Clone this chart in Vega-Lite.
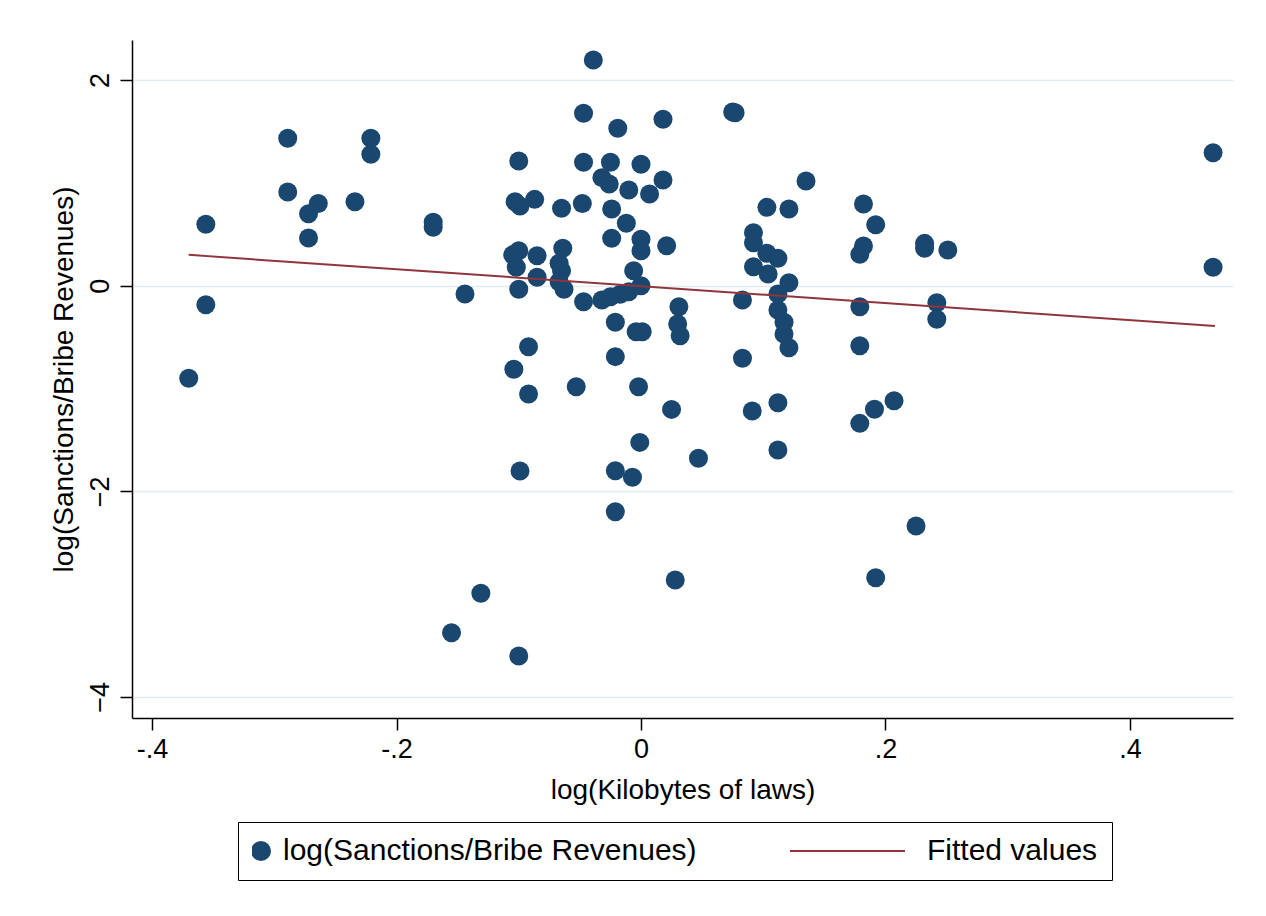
{
  "$schema": "https://vega.github.io/schema/vega-lite/v6.json",
  "width": 1101,
  "height": 678,
  "autosize": {"type": "none"},
  "padding": {"left": 132, "top": 40, "right": 33, "bottom": 198},
  "background": "white",
  "config": {
    "view": {"stroke": null},
    "font": "Liberation Sans"
  },
  "datasets": {
    "pts": [
      {"x": -0.356, "y": 0.597}, {"x": -0.356, "y": -0.185}, {"x": -0.370, "y": -0.900},
      {"x": -0.289, "y": 1.434}, {"x": -0.289, "y": 0.911}, {"x": -0.264, "y": 0.800},
      {"x": -0.272, "y": 0.700}, {"x": -0.272, "y": 0.464}, {"x": -0.234, "y": 0.817},
      {"x": -0.221, "y": 1.434}, {"x": -0.221, "y": 1.278}, {"x": -0.170, "y": 0.617},
      {"x": -0.170, "y": 0.568}, {"x": -0.144, "y": -0.081},
      {"x": -0.039, "y": 2.196}, {"x": -0.047, "y": 1.677}, {"x": -0.019, "y": 1.531},
      {"x": 0.018, "y": 1.619}, {"x": -0.100, "y": 1.213}, {"x": -0.047, "y": 1.200},
      {"x": -0.025, "y": 1.200}, {"x": 0.000, "y": 1.181}, {"x": -0.032, "y": 1.051},
      {"x": -0.026, "y": 0.989}, {"x": -0.010, "y": 0.931}, {"x": 0.018, "y": 1.028},
      {"x": 0.007, "y": 0.892}, {"x": -0.103, "y": 0.817}, {"x": -0.099, "y": 0.775},
      {"x": -0.087, "y": 0.840}, {"x": -0.065, "y": 0.753}, {"x": -0.048, "y": 0.800},
      {"x": -0.024, "y": 0.746}, {"x": -0.012, "y": 0.607}, {"x": -0.024, "y": 0.461},
      {"x": 0.000, "y": 0.451}, {"x": 0.000, "y": 0.340}, {"x": 0.021, "y": 0.389},
      {"x": -0.105, "y": 0.300}, {"x": -0.100, "y": 0.340}, {"x": -0.102, "y": 0.180},
      {"x": -0.085, "y": 0.292}, {"x": -0.085, "y": 0.082}, {"x": -0.100, "y": -0.035},
      {"x": -0.064, "y": 0.364}, {"x": -0.067, "y": 0.218}, {"x": -0.065, "y": 0.146},
      {"x": -0.067, "y": 0.039}, {"x": -0.063, "y": -0.035}, {"x": -0.047, "y": -0.156},
      {"x": -0.032, "y": -0.139}, {"x": -0.025, "y": -0.107}, {"x": -0.017, "y": -0.084},
      {"x": -0.010, "y": -0.058}, {"x": -0.006, "y": 0.146}, {"x": 0.000, "y": 0.000},
      {"x": 0.031, "y": -0.204}, {"x": 0.030, "y": -0.373}, {"x": 0.032, "y": -0.486},
      {"x": -0.021, "y": -0.356}, {"x": -0.004, "y": -0.447}, {"x": 0.001, "y": -0.447},
      {"x": -0.092, "y": -0.593}, {"x": -0.021, "y": -0.690}, {"x": -0.104, "y": -0.813},
      {"x": -0.092, "y": -1.054}, {"x": -0.053, "y": -0.982}, {"x": -0.002, "y": -0.982},
      {"x": 0.025, "y": -1.203}, {"x": -0.001, "y": -1.524}, {"x": 0.047, "y": -1.679},
      {"x": -0.099, "y": -1.803}, {"x": -0.021, "y": -1.800}, {"x": -0.007, "y": -1.864},
      {"x": -0.021, "y": -2.198}, {"x": 0.028, "y": -2.863}, {"x": -0.131, "y": -2.992},
      {"x": -0.155, "y": -3.375}, {"x": -0.100, "y": -3.602},
      {"x": 0.077, "y": 1.683}, {"x": 0.075, "y": 1.690}, {"x": 0.135, "y": 1.018},
      {"x": 0.103, "y": 0.762}, {"x": 0.121, "y": 0.746}, {"x": 0.092, "y": 0.516},
      {"x": 0.092, "y": 0.418}, {"x": 0.103, "y": 0.315}, {"x": 0.112, "y": 0.266},
      {"x": 0.092, "y": 0.185}, {"x": 0.104, "y": 0.114}, {"x": 0.121, "y": 0.029},
      {"x": 0.083, "y": -0.139}, {"x": 0.112, "y": -0.081}, {"x": 0.112, "y": -0.236},
      {"x": 0.117, "y": -0.356}, {"x": 0.117, "y": -0.470}, {"x": 0.121, "y": -0.603},
      {"x": 0.083, "y": -0.706}, {"x": 0.091, "y": -1.219}, {"x": 0.112, "y": -1.138},
      {"x": 0.112, "y": -1.598}, {"x": 0.182, "y": 0.795}, {"x": 0.192, "y": 0.593},
      {"x": 0.182, "y": 0.386}, {"x": 0.179, "y": 0.305}, {"x": 0.232, "y": 0.412},
      {"x": 0.232, "y": 0.364}, {"x": 0.251, "y": 0.347}, {"x": 0.179, "y": -0.204},
      {"x": 0.179, "y": -0.584}, {"x": 0.242, "y": -0.165}, {"x": 0.242, "y": -0.327},
      {"x": 0.179, "y": -1.339}, {"x": 0.191, "y": -1.202}, {"x": 0.207, "y": -1.119},
      {"x": 0.468, "y": 1.294}, {"x": 0.468, "y": 0.179}, {"x": 0.225, "y": -2.338},
      {"x": 0.192, "y": -2.840}
    ],
    "fit": [
      {"x": -0.370, "y": 0.300},
      {"x": 0.4695, "y": -0.391}
    ]
  },
  "layer": [
    {
      "data": {"name": "pts"},
      "transform": [{"calculate": "'log(Sanctions/Bribe Revenues)'", "as": "series"}],
      "mark": {"type": "point", "filled": true, "size": 361, "opacity": 1, "shape": "circle"},
      "encoding": {
        "x": {
          "field": "x", "type": "quantitative",
          "scale": {"domain": [-0.4164, 0.4843], "nice": false, "zero": false},
          "axis": {
            "values": [-0.4, -0.2, 0, 0.2, 0.4],
            "labelExpr": "datum.value == 0 ? '0' : (datum.value < 0 ? '-' : '') + '.' + round(abs(datum.value) * 10)",
            "grid": false,
            "domainColor": "black", "domainWidth": 1.5,
            "tickColor": "black", "tickWidth": 1.5, "tickSize": 12,
            "labelFontSize": 27, "labelColor": "black", "labelPadding": 6,
            "labelFlush": false, "labelOverlap": false,
            "title": "log(Kilobytes of laws)",
            "titleFontSize": 28, "titleFontWeight": "normal", "titleColor": "black",
            "titleBaseline": "alphabetic", "titleY": 80
          }
        },
        "y": {
          "field": "y", "type": "quantitative",
          "scale": {"domain": [-4.205, 2.39], "nice": false, "zero": false},
          "axis": {
            "values": [-4, -2, 0, 2], "format": "d",
            "grid": true, "gridColor": "#e4ecef", "gridWidth": 1.5,
            "domainColor": "black", "domainWidth": 1.5,
            "tickColor": "black", "tickWidth": 1.5, "tickSize": 12,
            "labelAngle": -90, "labelAlign": "center", "labelBaseline": "alphabetic",
            "labelFontSize": 27, "labelColor": "black", "labelPadding": 12,
            "labelOverlap": false,
            "title": "log(Sanctions/Bribe Revenues)",
            "titleFontSize": 28, "titleFontWeight": "normal", "titleColor": "black",
            "titleAngle": -90, "titleAlign": "center", "titleBaseline": "alphabetic",
            "titleX": -60, "titleY": 339
          }
        },
        "fill": {
          "field": "series", "type": "nominal",
          "scale": {"domain": ["log(Sanctions/Bribe Revenues)", "Fitted values"], "range": ["#1a476f", "rgba(0,0,0,0)"]},
          "legend": {
            "orient": "none", "legendX": 106, "legendY": 782,
            "direction": "horizontal", "columns": 2, "columnPadding": 199, "title": null,
            "strokeColor": "black", "padding": 14, "clipHeight": 30,
            "labelFontSize": 30, "labelColor": "black", "labelOffset": 7, "labelLimit": 1000,
            "symbolSize": 400, "symbolStrokeWidth": 0, "symbolType": "circle", "symbolOffset": -6,
            "symbolOpacity": 1
          }
        }
      }
    },
    {
      "data": {"name": "fit"},
      "transform": [{"calculate": "'Fitted values'", "as": "series"}],
      "mark": {"type": "line", "strokeWidth": 2},
      "encoding": {
        "x": {"field": "x", "type": "quantitative"},
        "y": {"field": "y", "type": "quantitative"},
        "stroke": {
          "field": "series", "type": "nominal",
          "scale": {"domain": ["Fitted values"], "range": ["#90353b"]},
          "legend": {
            "orient": "none", "legendX": 657, "legendY": 796,
            "direction": "horizontal", "title": null,
            "padding": 0, "clipHeight": 30,
            "labelFontSize": 1, "labelOpacity": 0, "labelOffset": 21, "labelLimit": 1000,
            "labelExpr": "''",
            "symbolType": "stroke", "symbolSize": 13225, "symbolStrokeWidth": 2
          }
        }
      }
    }
  ]
}
